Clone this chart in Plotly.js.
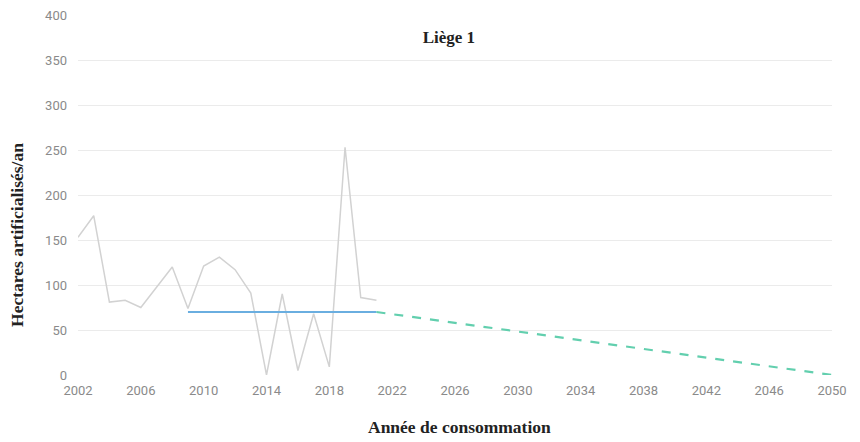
<!DOCTYPE html>
<html>
<head>
<meta charset="utf-8">
<script src="https://cdn.plot.ly/plotly-3.0.1.min.js"></script>
<style>
  html, body { margin: 0; padding: 0; background: #ffffff; }
  #chart { width: 860px; height: 442px; }
</style>
</head>
<body>
<div id="chart"></div>
<script>
// Historical annual consumption (hectares artificialised per year)
const histYears = [2002, 2003, 2004, 2005, 2006, 2007, 2008, 2009, 2010, 2011,
                   2012, 2013, 2014, 2015, 2016, 2017, 2018, 2019, 2020, 2021];
const histValues = [153, 177, 81, 83, 75, 98, 120, 74, 121, 131,
                    117, 91, 0, 90, 5, 68, 9, 253, 86, 83];

// Reference average segment
const avgYears = [2009, 2021];
const avgValues = [70, 70];

// Trajectory to 2050
const trajYears = [2021, 2050];
const trajValues = [70, 0];

const xTicks = [2002, 2006, 2010, 2014, 2018, 2022, 2026, 2030, 2034, 2038, 2042, 2046, 2050];
const yTicks = [0, 50, 100, 150, 200, 250, 300, 350, 400];

const chartTitle = 'Liège 1';
const xTitle = 'Année de consommation';
const yTitle = 'Hectares artificialisés/an';

const traces = [
  {
    x: histYears, y: histValues, type: 'scatter', mode: 'lines',
    line: { color: '#d2d2d2', width: 1.5 }
  },
  {
    x: avgYears, y: avgValues, type: 'scatter', mode: 'lines',
    line: { color: '#6aaee0', width: 2.2 }
  },
  {
    x: trajYears, y: trajValues, type: 'scatter', mode: 'lines',
    line: { color: '#62cfae', width: 2.2, dash: 'dash' }
  }
];

const serif = '"Liberation Serif", "DejaVu Serif", serif';
const sans = 'Roboto, "Open Sans", "Noto Sans", sans-serif';

const layout = {
  width: 860, height: 442,
  margin: { l: 78, r: 28, t: 15, b: 67 },
  paper_bgcolor: '#ffffff', plot_bgcolor: '#ffffff',
  showlegend: false,
  title: {
    text: '<b>' + chartTitle + '</b>',
    font: { family: serif, size: 17, color: '#222222' },
    xref: 'container', yref: 'container',
    x: 0.522, y: 0.916, xanchor: 'center', yanchor: 'middle'
  },
  xaxis: {
    range: [2002, 2050],
    tickmode: 'array', tickvals: xTicks, ticktext: xTicks.map(String),
    showgrid: false, zeroline: false, showline: false, ticks: '',
    tickfont: { family: sans, size: 13, color: '#8a8a8a' },
    ticklabelstandoff: 6
  },
  yaxis: {
    range: [0, 400],
    tickmode: 'array', tickvals: yTicks, ticktext: yTicks.map(String),
    showgrid: true, gridcolor: '#ebebeb', gridwidth: 1,
    zeroline: false, showline: false, ticks: '',
    tickfont: { family: sans, size: 13, color: '#8a8a8a' },
    ticklabelstandoff: 10
  },
  annotations: [
    {
      text: '<b>' + xTitle + '</b>', showarrow: false,
      xref: 'paper', yref: 'paper', x: 0.5066, y: -0.1436,
      xanchor: 'center', yanchor: 'middle',
      font: { family: serif, size: 17.5, color: '#222222' }
    },
    {
      text: '<b>' + yTitle + '</b>', showarrow: false, textangle: -90,
      xref: 'paper', yref: 'paper', x: -0.0809, y: 0.389,
      xanchor: 'center', yanchor: 'middle',
      font: { family: serif, size: 17.5, color: '#222222' }
    }
  ]
};

Plotly.newPlot('chart', traces, layout, { displayModeBar: false, staticPlot: true });
</script>
</body>
</html>
